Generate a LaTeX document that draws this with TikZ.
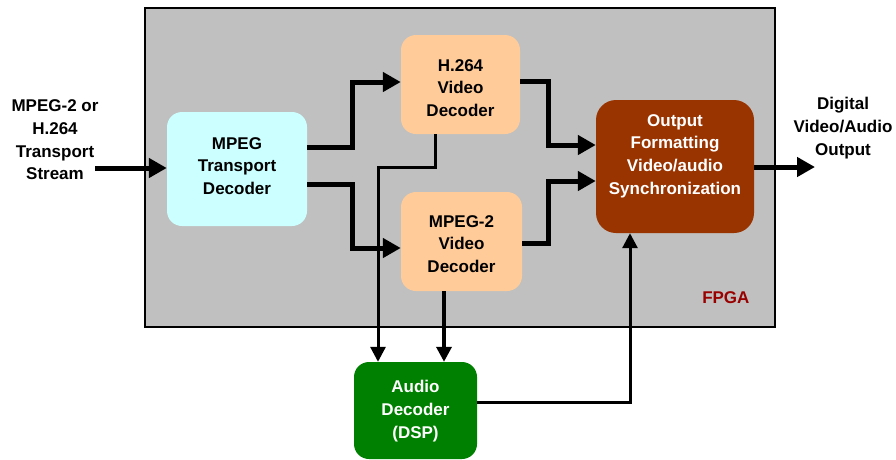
\documentclass[tikz,border=0pt]{standalone}
\usepackage{fontspec}
\setmainfont{Liberation Sans}
\usetikzlibrary{arrows.meta}
\definecolor{fpgagray}{RGB}{192,192,192}
\definecolor{tscyan}{RGB}{204,255,255}
\definecolor{vdorange}{RGB}{255,204,153}
\definecolor{outbrown}{RGB}{153,51,0}
\definecolor{audgreen}{RGB}{0,128,0}
\definecolor{fpgared}{RGB}{153,0,0}
\tikzset{
  blk/.style={rounded corners=15pt, draw=none, align=center, font=\bfseries\fontsize{17}{22.7}\selectfont},
  txt/.style={align=center, font=\bfseries\fontsize{17}{22.7}\selectfont},
  bigarrow/.style={line width=5pt, -{Triangle[length=18pt,width=19pt]}},
  midarrow/.style={line width=3.5pt, -{Triangle[length=15pt,width=15pt]}},
  thinarrow/.style={line width=3pt, -{Triangle[length=15pt,width=15pt]}},
}
\begin{document}
\begin{tikzpicture}[x=1pt,y=-1pt]
\useasboundingbox (0,0) rectangle (896,459);
\node[draw=black, line width=1.5pt, fill=fpgagray, minimum width=630pt, minimum height=319pt, inner sep=0pt] (fpga) at (460,167.5) {};
\node[txt, text=fpgared, anchor=east] (fpgalbl) at (753,298) {FPGA};

\node[blk, fill=tscyan, minimum width=140pt, minimum height=114pt] (tr) at (237,169) {};
\node[txt] (trt) at (237,166) {MPEG\\Transport\\Decoder};

\node[blk, fill=vdorange, minimum width=119pt, minimum height=99pt] (h) at (460.5,84.5) {};
\node[txt] (ht) at (460.5,88) {H.264\\Video\\Decoder};

\node[blk, fill=vdorange, minimum width=121pt, minimum height=99pt] (m) at (461.5,241.5) {};
\node[txt] (mt) at (461.5,244) {MPEG-2\\Video\\Decoder};

\node[blk, fill=outbrown, rounded corners=20pt, minimum width=158pt, minimum height=133pt] (o) at (675,166.5) {};
\node[txt, text=white] (ot) at (675,156) {Output\\Formatting\\Video/audio\\Synchronization};

\node[blk, fill=audgreen, minimum width=123pt, minimum height=97pt] (a) at (415.5,410.5) {};
\node[txt, text=white] (at) at (415.5,411) {Audio\\Decoder\\(DSP)};

\node[txt] (inlbl) at (55,140) {MPEG-2 or\\H.264\\Transport\\Stream};
\node[txt] (outlbl) at (843,128) {Digital\\Video/Audio\\Output};

\coordinate (instart) at (95,168);
\coordinate (outend) at (815,167);

\draw[bigarrow] (instart) -- (tr.west |- instart);
\draw[bigarrow] (tr.east |- 0,147) -| (352,82) -- (h.west |- 0,82);
\draw[bigarrow] (tr.east |- 0,184) -| (352,248) -- (m.west |- 0,248);
\draw[bigarrow] (h.east |- 0,81) -| (548,145) -- (o.west |- 0,145);
\draw[bigarrow] (m.east |- 0,243) -| (548,181) -- (o.west |- 0,181);
\draw[bigarrow] (o.east |- outend) -- (outend);
\draw[thinarrow] (h.south -| 435,0) |- (378,167) -- (a.north -| 378,0);
\draw[midarrow] (m.south -| 444,0) -- (a.north -| 444,0);
\draw[thinarrow] (a.east |- 0,402) -| (o.south -| 630,0);
\end{tikzpicture}
\end{document}
